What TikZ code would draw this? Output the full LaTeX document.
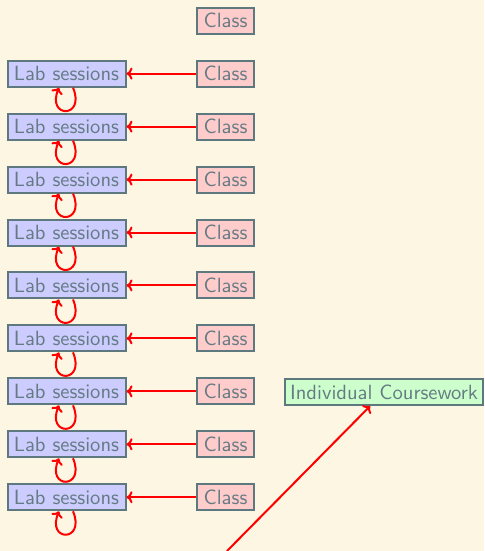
\documentclass[tikz,border=0pt]{standalone}
\usetikzlibrary{arrows.meta,calc}
\definecolor{bgc}{HTML}{FDF6E3}
\definecolor{txt}{HTML}{657B83}
\definecolor{brd}{HTML}{5E7880}
\begin{document}
\begin{tikzpicture}[x=0.5pt,y=-0.5pt,
  font=\sffamily\fontsize{10.3}{12}\selectfont,
  box/.style={draw=brd,line width=1pt,text=txt,inner sep=0pt,minimum height=13pt},
  lab/.style={box,fill=blue!20,minimum width=59pt},
  cls/.style={box,fill=red!20,minimum width=28.5pt},
  cw/.style={box,fill=green!20,minimum width=99pt},
  conn/.style={red,line width=1pt,-{To[length=3pt,width=6pt]}}]
\fill[bgc] (0,0) rectangle (484,551);
\useasboundingbox (0,0) rectangle (484,551);
\node[cls] (c0) at (225.5,20.7) {Class};
\foreach \i in {1,...,9}{
  \node[cls] (c\i) at (225.5,20.7+52.95*\i) {Class};
  \node[lab] (l\i) at (66.5,20.7+52.95*\i) {Lab sessions};
  \draw[conn] (c\i) -- (l\i);
  \draw[conn] ($(l\i.south)+(6.5,0)$) .. controls +(13,31) and +(-13,31) .. ($(l\i.south)+(-7.5,0)$);
}
\node[cw] (cw) at (384,392) {Individual Coursework};
\coordinate (src) at (227,551);
\draw[conn] (src) -- (cw);
\end{tikzpicture}
\end{document}
